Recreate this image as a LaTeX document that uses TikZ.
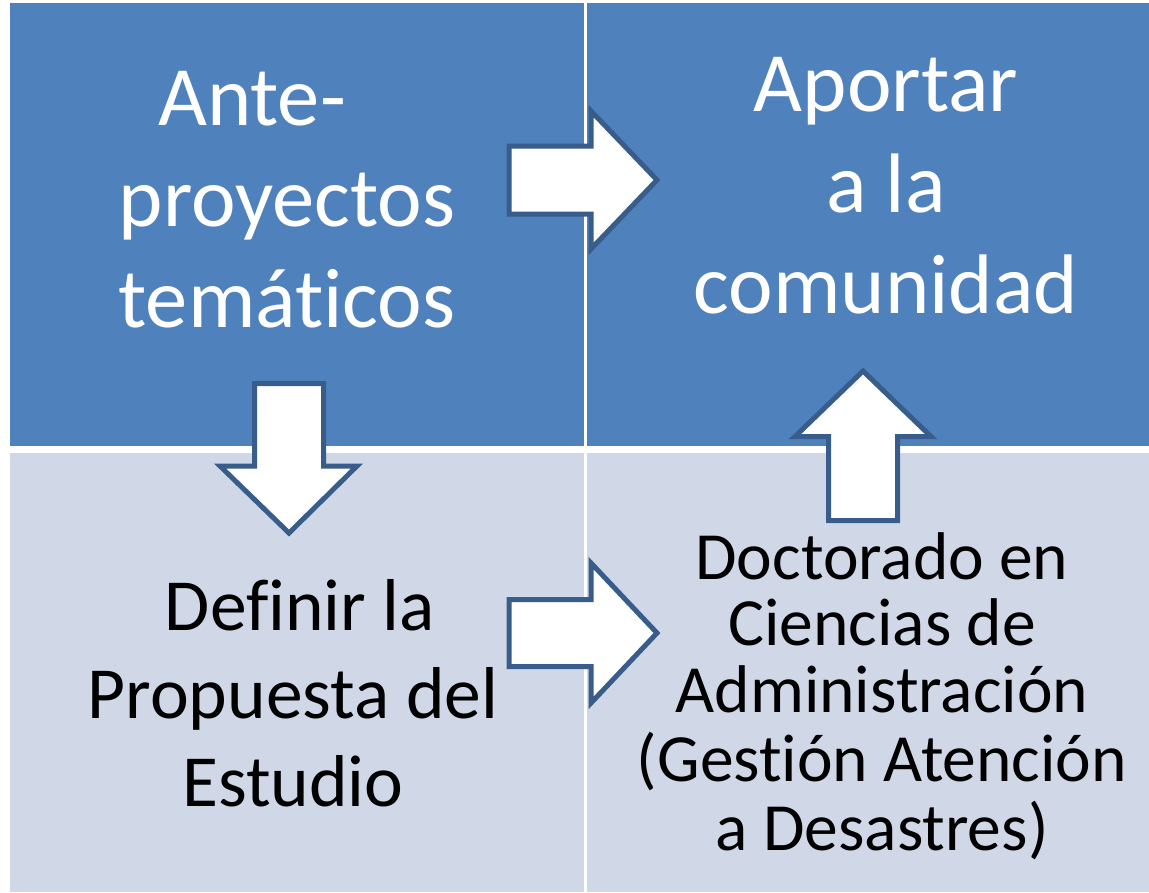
\documentclass[tikz,border=0pt]{standalone}
\usepackage{fontspec}
\setmainfont{Carlito}[Ligatures=NoCommon,RawFeature={-liga;-clig;-dlig}]
\definecolor{topblue}{RGB}{79,129,189}
\definecolor{lowblue}{RGB}{208,216,232}
\definecolor{arrowline}{RGB}{56,93,138}
\begin{document}
\begin{tikzpicture}[x=1pt,y=-1pt,
  quad/.style={draw=none, inner sep=0pt, outer sep=0pt, anchor=north west},
  topquad/.style={quad, fill=topblue},
  lowquad/.style={quad, fill=lowblue},
  bigarrow/.style={fill=white, draw=arrowline, line width=5pt, line join=miter},
  label/.style={anchor=base, inner sep=0pt, outer sep=0pt},
  toptext/.style={label, text=white, font=\fontsize{84.5pt}{101pt}\selectfont},
  lefttext/.style={label, text=black, font=\fontsize{73.5pt}{88pt}\selectfont},
  righttext/.style={label, text=black, font=\fontsize{67.5pt}{65.5pt}\selectfont}]
\useasboundingbox (0,0) rectangle (1149,892);
\fill[white] (0,0) rectangle (1149,892);
% quadrants
\node[topquad, minimum width=574pt, minimum height=443pt] (tl) at (10,3) {};
\node[topquad, minimum width=562pt, minimum height=443pt] (tr) at (587,3) {};
\node[lowquad, minimum width=574pt, minimum height=439pt] (bl) at (10,453) {};
\node[lowquad, minimum width=562pt, minimum height=439pt] (br) at (587,453) {};
% arrows
\draw[bigarrow] (509,146) -- (591,146) -- (591,111) -- (657,180) -- (591,249) -- (591,214) -- (509,214) -- cycle;
\draw[bigarrow] (509,599.5) -- (591,599.5) -- (591,563) -- (657,633) -- (591,703) -- (591,666.5) -- (509,666.5) -- cycle;
\draw[bigarrow] (254.5,383.5) -- (323.5,383.5) -- (323.5,466) -- (357,466) -- (289,533) -- (220,466) -- (254.5,466) -- cycle;
\draw[bigarrow] (863,371) -- (931,436.5) -- (897.5,436.5) -- (897.5,520.5) -- (828.5,520.5) -- (828.5,436.5) -- (795,436.5) -- cycle;
% texts
\node[toptext] (tltext) at (287,125) {\begin{tabular}[t]{@{}c@{}}Ante-\kern70pt\\proyectos\\temáticos\end{tabular}};
\node[toptext] (trtext) at (886,111) {\begin{tabular}[t]{@{}c@{}}Aportar\\a la\\comunidad\end{tabular}};
\node[lefttext] (bltext) at (293,630) {\begin{tabular}[t]{@{}c@{}}\kern14pt Definir la\\Propuesta del\\Estudio\end{tabular}};
\node[righttext] (brtext) at (882,579) {\begin{tabular}[t]{@{}c@{}}Doctorado en\\Ciencias de\\Administración\\(Gestión Atención\\a Desastres)\end{tabular}};
\end{tikzpicture}
\end{document}
